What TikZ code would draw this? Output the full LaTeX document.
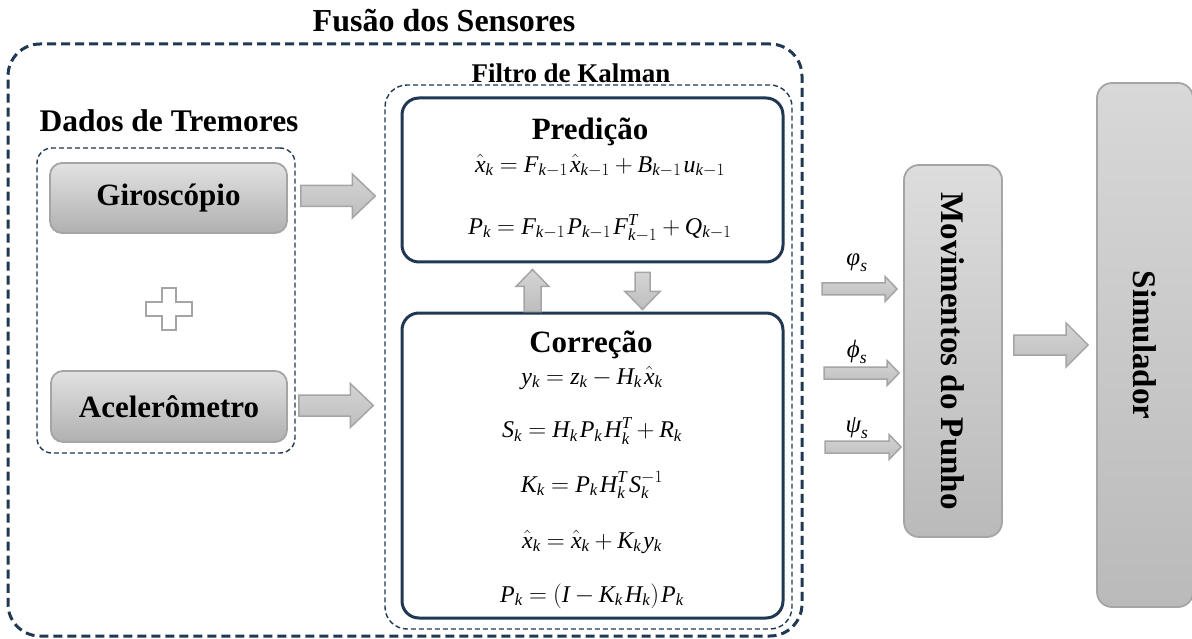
\documentclass[tikz,border=0pt]{standalone}
\usepackage{fontspec}
\setmainfont{Liberation Serif}
% italic math letters taken from the serif text face
\DeclareSymbolFont{letters}{TU}{\rmdefault}{m}{it}
\usetikzlibrary{calc}

\definecolor{navy}{RGB}{33,56,82}
\definecolor{boxedge}{RGB}{165,165,165}
\definecolor{boxtop}{RGB}{226,226,226}
\definecolor{boxbot}{RGB}{176,176,176}
\definecolor{arredge}{RGB}{165,165,165}
\definecolor{arrtop}{RGB}{212,212,212}
\definecolor{arrbot}{RGB}{190,190,190}

% horizontal block arrow: tail, tip, shaft half-width, head half-width, head length (pt)
\newcommand\harrow[5]{%
  \path[blockarr] let \p1=(#1), \p2=(#2) in
    ({\x1},{\y1+#3pt}) -- ({\x2-#5pt},{\y1+#3pt}) -- ({\x2-#5pt},{\y1+#4pt})
    -- ({\x2},{\y1}) -- ({\x2-#5pt},{\y1-#4pt}) -- ({\x2-#5pt},{\y1-#3pt})
    -- ({\x1},{\y1-#3pt}) -- cycle;}
% vertical block arrow, same arguments
\newcommand\varrow[5]{%
  \path[blockarr] let \p1=(#1), \p2=(#2), \n1={sign(\y2-\y1)} in
    ({\x1-#3pt},{\y1}) -- ({\x1-#3pt},{\y2-\n1*#5pt}) -- ({\x1-#4pt},{\y2-\n1*#5pt})
    -- ({\x1},{\y2}) -- ({\x1+#4pt},{\y2-\n1*#5pt}) -- ({\x1+#3pt},{\y2-\n1*#5pt})
    -- ({\x1+#3pt},{\y1}) -- cycle;}

% spacing around relations and operators in the equations
\newcommand\eqspacing{\thickmuskip=4.5mu plus 1mu\medmuskip=3.5mu plus 1mu}
% small gap between juxtaposed factors
\newcommand\fg{\mskip1.5mu}
% italic Greek letters from the text face
\newcommand\gk[1]{\mbox{\itshape #1}}

\tikzset{
  outerframe/.style={draw=navy, line width=3pt, dash pattern=on 9pt off 5pt,
    rounded corners=32pt, inner sep=0pt},
  innerframe/.style={draw=navy, line width=1.4pt, dash pattern=on 5pt off 3pt,
    rounded corners=#1, inner sep=0pt},
  stage/.style={draw=navy, line width=3pt, fill=white, rounded corners=17pt, inner sep=0pt},
  graybox/.style={draw=boxedge, line width=1.8pt, top color=boxtop, bottom color=boxbot,
    rounded corners=#1, inner sep=0pt, font=\bfseries\fontsize{31}{36}\selectfont},
  heading/.style={font=\bfseries\fontsize{#1}{#1}\selectfont, inner sep=0pt},
  eq/.style={font=\fontsize{24}{28}\selectfont\eqspacing, inner sep=0pt},
  anglelabel/.style={font=\fontsize{25}{29}\selectfont, inner sep=0pt},
  blockarr/.style={draw=arredge, line width=1.5pt, top color=arrtop, bottom color=arrbot},
}

\begin{document}
\begin{tikzpicture}[x=1pt,y=-1pt]
\useasboundingbox (0,0) rectangle (1192,639);

% sensor fusion frame
\node[outerframe, minimum width=794pt, minimum height=592pt] (fusion) at (405,340) {};
\node[heading=32] (fusiontitle) at (444,21) {Fusão dos Sensores};

% tremor data
\node[heading=31.5] (datatitle) at (169,121) {Dados de Tremores};
\node[innerframe=15pt, minimum width=258pt, minimum height=305pt] (data) at (166,300.5) {};
\node[graybox=12pt, minimum width=237pt, minimum height=70pt] (gyro) at (168.5,198) {Giroscópio};
\node[graybox=12pt, minimum width=236pt, minimum height=71pt] (accel) at (169,406.5) {Acelerômetro};
\coordinate (plus) at (169,309);
\draw[draw=boxedge, line width=2pt, fill=white, shift={(plus)}]
  (-7,-21) -- (7,-21) -- (7,-7) -- (23,-7) -- (23,7) -- (7,7) -- (7,21)
  -- (-7,21) -- (-7,7) -- (-23,7) -- (-23,-7) -- (-7,-7) -- cycle;

% Kalman filter
\node[innerframe=22pt, minimum width=407pt, minimum height=544pt] (kalman) at (588.5,357) {};
\node[heading=27] (kalmantitle) at (571,73) {Filtro de Kalman};
\node[stage, minimum width=381pt, minimum height=164pt] (pred) at (592.5,180) {};
\node[stage, minimum width=381pt, minimum height=305pt] (corr) at (592.5,465.5) {};

\node[heading=31] (predtitle) at (590,132) {Predição};
\node[eq] (p1) at (600,166) {$\hat{x}_k = F_{k-1}\fg\hat{x}_{k-1} + B_{k-1}\fg u_{k-1}$};
\node[eq] (p2) at (600,228) {$P_k = F_{k-1}\fg P_{k-1}\fg F_{k-1}^{T} + Q_{k-1}$};

\node[heading=31] (corrtitle) at (591,345) {Correção};
\node[eq] (c1) at (592,378) {$y_k = z_k - H_k\fg\hat{x}_k$};
\node[eq] (c2) at (592,431) {$S_k = H_k\fg P_k\fg H_k^{T} + R_k$};
\node[eq] (c3) at (592,485) {$K_k = P_k\fg H_k^{T}\fg S_k^{-1}$};
\node[eq] (c4) at (592,542) {$\hat{x}_k = \hat{x}_k + K_k\fg y_k$};
\node[eq] (c5) at (592,596) {$P_k = (I - K_k\fg H_k)\fg P_k$};

% wrist motion and simulator
\node[graybox=15pt, minimum width=98pt, minimum height=372pt, top color=boxtop!90!boxbot,
  bottom color=boxbot!80!boxtop] (mov) at (953,351) {};
\node[rotate=-90, heading=33] (movtext) at (mov.center) {Movimentos do Punho};
\node[graybox=15pt, minimum width=96pt, minimum height=524pt, top color=boxtop!80!boxbot,
  bottom color=boxbot!80!boxtop] (sim) at (1145,345) {};
\node[rotate=-90, heading=33] (simtext) at (sim.center) {Simulador};

% flows
\harrow{$(gyro.east)+(13,-2)$}{$(kalman.west |- gyro.east)+(-9,-2)$}{10.5}{22}{23}
\harrow{$(accel.east)+(11,-1)$}{$(kalman.west |- accel.east)+(-11,-1)$}{10.5}{22}{23}
\varrow{$(corr.north)+(-60,0)$}{$(pred.south)+(-60,6)$}{8.5}{16.5}{17}
\varrow{$(pred.south)+(50,9)$}{$(corr.north)+(50,-2)$}{7.5}{17.5}{18}

\coordinate (phi1) at (822,289);
\coordinate (phi2) at (824,373);
\coordinate (phi3) at (825,447);
\harrow{phi1}{$(mov.west |- phi1)+(-6,0)$}{6}{12.5}{12}
\harrow{phi2}{$(mov.west |- phi2)+(-4,0)$}{6}{12.5}{12}
\harrow{phi3}{$(mov.west |- phi3)+(-2,0)$}{6}{12.5}{12}
\node[anglelabel] (l1) at (857,263) {$\gk{φ}_s$};
\node[anglelabel] (l2) at (857,352) {$\gk{ϕ}_s$};
\node[anglelabel] (l3) at (857,428) {$\gk{ψ}_s$};

\harrow{$(mov.east |- sim.west)+(11,0)$}{$(sim.west)+(-8,0)$}{10}{22}{22}
\end{tikzpicture}
\end{document}
